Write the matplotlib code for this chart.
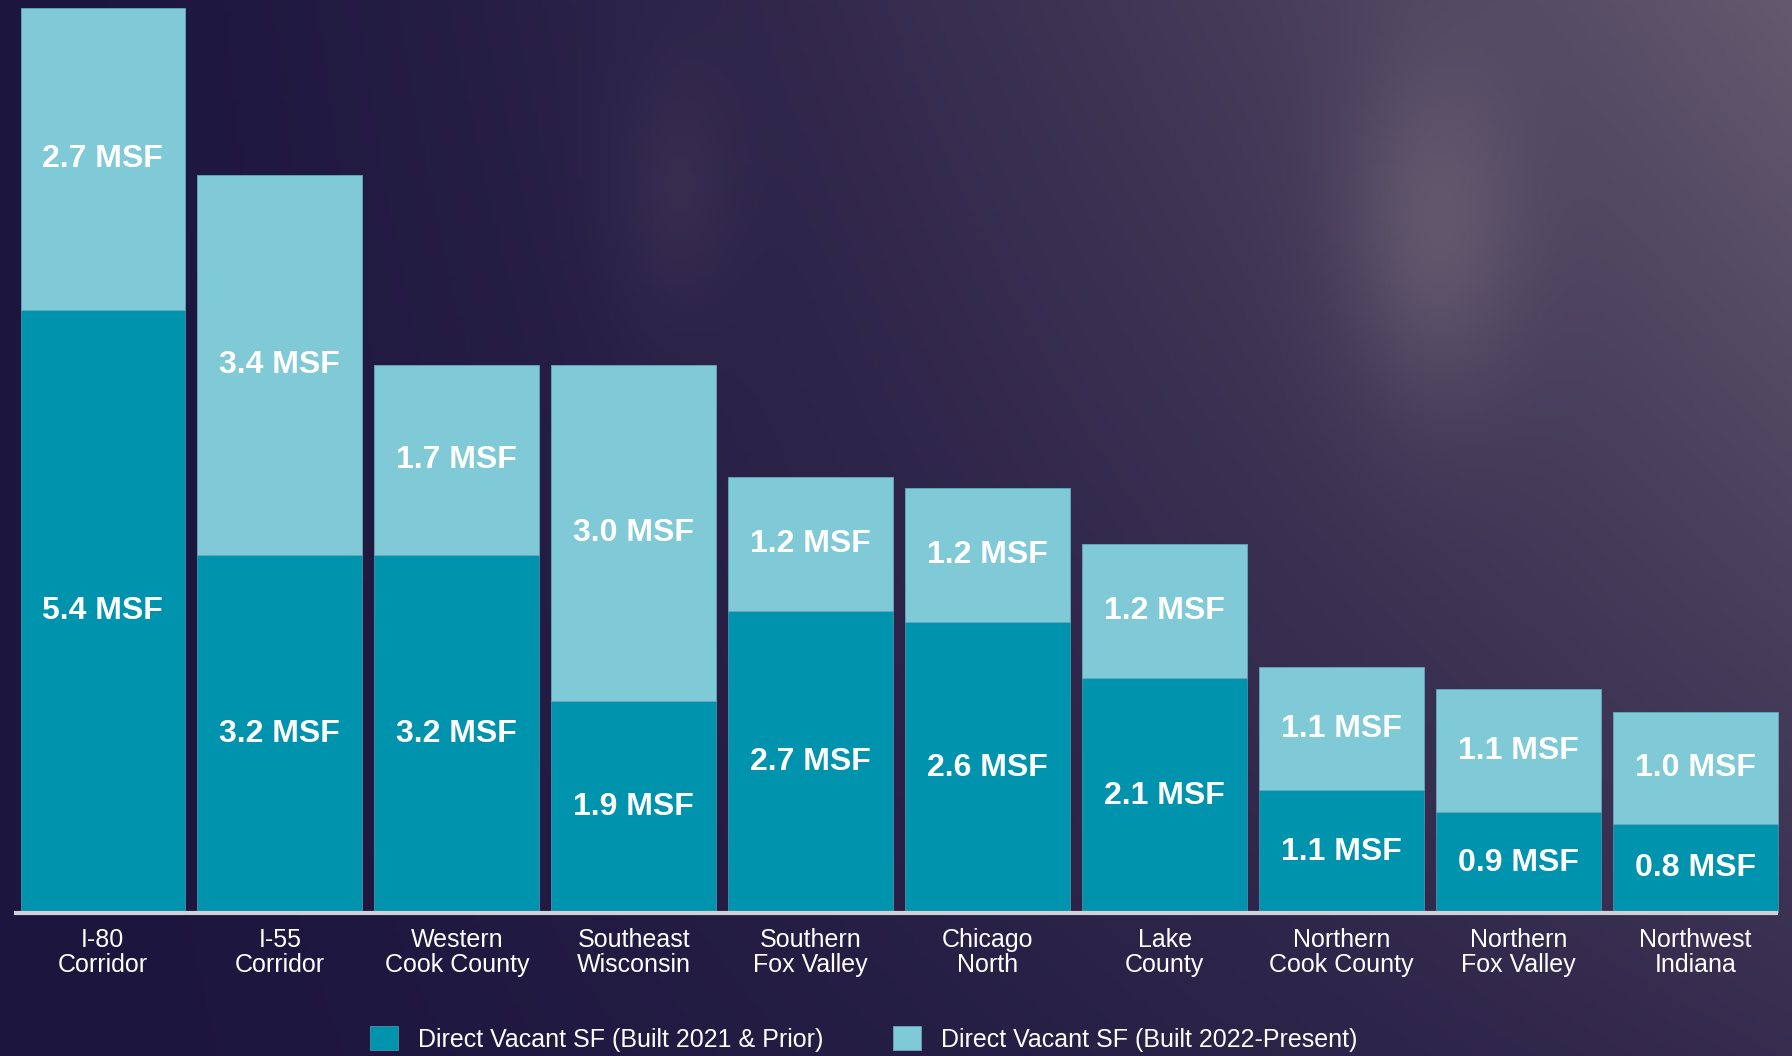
import matplotlib
matplotlib.use("Agg")
import matplotlib.pyplot as plt
import numpy as np

# Data (MSF)
regions = ["I-80\nCorridor", "I-55\nCorridor", "Western\nCook County", "Southeast\nWisconsin",
           "Southern\nFox Valley", "Chicago\nNorth", "Lake\nCounty", "Northern\nCook County",
           "Northern\nFox Valley", "Northwest\nIndiana"]
built_prior = [5.4, 3.2, 3.2, 1.9, 2.7, 2.6, 2.1, 1.1, 0.9, 0.8]
built_new = [2.7, 3.4, 1.7, 3.0, 1.2, 1.2, 1.2, 1.1, 1.1, 1.0]
legend_labels = ["Direct Vacant SF (Built 2021 & Prior)", "Direct Vacant SF (Built 2022-Present)"]

DARK = "#0093ae"
LIGHT = "#80c9d6"

plt.rcParams["font.family"] = ["Liberation Sans", "DejaVu Sans"]

fig = plt.figure(figsize=(17.92, 10.56), dpi=100)

# background: dark purple wall with soft light on the right
bg = fig.add_axes([0, 0, 1, 1], zorder=-1)
X, Y = np.meshgrid(np.linspace(0, 1, 400), np.linspace(0, 1, 240))
w = 0.8 * X ** 1.5 * (1 - 0.65 * Y)
w += 0.28 * np.exp(-((X - 0.80) / 0.05) ** 2 - ((Y - 0.22) / 0.16) ** 2)
w += 0.12 * np.exp(-((X - 0.375) / 0.035) ** 2 - ((Y - 0.18) / 0.12) ** 2)
w = np.clip(w, 0, 1)
c0 = np.array([28, 21, 62]) / 255
c1 = np.array([118, 106, 122]) / 255
img = c0 + w[..., None] * (c1 - c0)
bg.imshow(img, extent=[0, 1, 0, 1], aspect="auto", origin="upper")
bg.axis("off")

ax = fig.add_axes([0, 1 - 913 / 1056, 1, 913 / 1056])
ax.set_facecolor("none")
x = np.arange(len(regions))
ax.bar(x, built_prior, width=0.93, color=DARK, edgecolor="#4a92aa", linewidth=0.6,
       label=legend_labels[0])
ax.bar(x, built_new, width=0.93, bottom=built_prior, color=LIGHT, edgecolor="#66a6bd",
       linewidth=0.6, label=legend_labels[1])

for i in range(len(regions)):
    ax.text(x[i], built_prior[i] / 2, f"{built_prior[i]:.1f} MSF", ha="center", va="center",
            color="white", fontsize=23, fontweight="bold")
    ax.text(x[i], built_prior[i] + built_new[i] / 2, f"{built_new[i]:.1f} MSF", ha="center",
            va="center", color="white", fontsize=23, fontweight="bold")
    ax.text(x[i], -0.13, regions[i], ha="center", va="top", color="white", fontsize=18,
            linespacing=1.1)

ax.plot([-0.5, 9.465], [0, 0], color="#cfd0d8", lw=3, solid_capstyle="butt", clip_on=False)
ax.set_xlim(-0.581, 9.545)
ax.set_ylim(0, 8.17)
ax.axis("off")

fig.legend(loc="center", bbox_to_anchor=(0.482, 0.016), ncol=2, frameon=False,
           fontsize=18, labelcolor="white", handlelength=1.1, handleheight=1.1,
           handletextpad=0.8, columnspacing=2.8, borderpad=0)

fig.savefig("out.png", dpi=100)
